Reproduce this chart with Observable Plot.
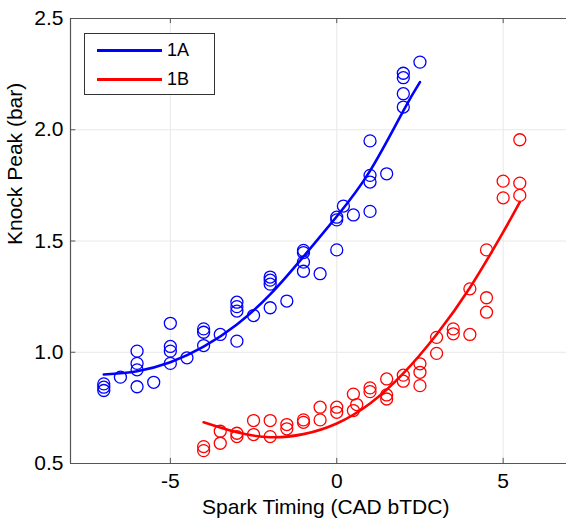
<!DOCTYPE html>
<html><head><meta charset="utf-8">
<script src="https://cdn.jsdelivr.net/npm/d3@7"></script>
<script src="https://cdn.jsdelivr.net/npm/@observablehq/plot@0.6"></script>
<style>
body{margin:0;background:#fff;font-family:"Liberation Sans",Arial,sans-serif;}
#wrap{position:relative;width:566px;height:518px;overflow:hidden;background:#fff;}
#chart svg{max-width:none !important;}
#legend{position:absolute;left:84px;top:33px;width:131px;height:62px;border:1px solid #333;background:#fff;box-sizing:border-box;}
#legend .ln{position:absolute;left:12px;width:65px;height:3px;}
#legend .lb{position:absolute;left:82px;font-size:18px;line-height:18px;color:#000;}
</style></head><body>
<div id="wrap"><div id="chart"></div>
<div id="legend">
<div class="ln" style="top:15px;background:#0000ff"></div><div class="lb" style="top:7px">1A</div>
<div class="ln" style="top:44px;background:#ff0000"></div><div class="lb" style="top:36px">1B</div>
</div></div>
<script>
const seriesNames = ["1A", "1B"];
const seriesColors = ["#0000ff", "#ff0000"];

// 1A measured points
const aX = [-7,-7,-7, -6.5, -6,-6,-6,-6, -5.5, -5,-5,-5,-5, -4.5, -4,-4,-4, -3.5, -3,-3,-3,-3, -2.5, -2,-2,-2,-2, -1.5, -1,-1,-1,-1, -0.5, 0,0,0, 0.2, 0.5, 1,1,1,1, 1.5, 2,2,2,2, 2.5];
const aY = [0.858,0.843,0.828, 0.888, 1.005,0.95,0.921,0.845, 0.865, 1.13,1.026,1.005,0.95, 0.975, 1.105,1.09,1.03, 1.08, 1.225,1.205,1.185,1.05, 1.165, 1.338,1.324,1.306,1.2, 1.23, 1.458,1.448,1.405,1.364, 1.353, 1.607,1.595,1.46, 1.657, 1.617, 1.95,1.795,1.765,1.633, 1.802, 2.254,2.234,2.162,2.102, 2.304];

// 1B measured points
const bX = [-4,-4, -3.5,-3.5, -3,-3, -2.5,-2.5, -2,-2, -1.5,-1.5, -1,-1, -0.5,-0.5, 0,0, 0.5,0.5,0.6, 1,1, 1.5,1.5,1.5, 2,2, 2.5,2.5,2.5, 3,3, 3.5,3.5, 4,4, 4.5,4.5,4.5, 5,5, 5.5,5.5,5.5];
const bY = [0.576,0.558, 0.645,0.591, 0.636,0.621, 0.693,0.63, 0.693,0.621, 0.675,0.656, 0.696,0.685, 0.753,0.696, 0.753,0.73, 0.812,0.738,0.765, 0.84,0.823, 0.88,0.808,0.79, 0.897,0.87, 0.948,0.91,0.85, 1.067,0.995, 1.105,1.083, 1.285,1.08, 1.46,1.245,1.18, 1.769,1.694, 1.955,1.76,1.705];

// fitted curves
const aFitX = [-7,-6,-5,-4,-3,-2,-1,0,1,2,2.5];
const aFitY = [0.90,0.915,0.955,1.025,1.125,1.26,1.43,1.61,1.815,2.085,2.214];
const bFitX = [-4,-3,-2,-1,0,1,2,3,4,5,5.5];
const bFitY = [0.685,0.64,0.618,0.632,0.68,0.77,0.905,1.08,1.29,1.54,1.675];

const xTicks = [-5, 0, 5];
const yTicks = [0.5, 1.0, 1.5, 2.0, 2.5];
const xLabel = "Spark Timing (CAD bTDC)";
const yLabel = "Knock Peak (bar)";

const pts = [
  ...aX.map((x, i) => ({x, y: aY[i], s: seriesNames[0]})),
  ...bX.map((x, i) => ({x, y: bY[i], s: seriesNames[1]}))
];
const fits = [
  ...aFitX.map((x, i) => ({x, y: aFitY[i], s: seriesNames[0]})),
  ...bFitX.map((x, i) => ({x, y: bFitY[i], s: seriesNames[1]}))
];

const axisColor = "#555";
const chart = Plot.plot({
  width: 610, height: 518,
  marginLeft: 70, marginRight: 7.5, marginTop: 18, marginBottom: 55,
  style: {fontFamily: "'Liberation Sans', Arial, sans-serif", fontSize: "21px", color: "#000", background: "#fff", overflow: "visible", maxWidth: "none"},
  x: {domain: [-8, 8]},
  y: {domain: [0.5, 2.5]},
  color: {domain: seriesNames, range: seriesColors},
  marks: [
    Plot.ruleX(xTicks, {stroke: "#e8e8e8"}),
    Plot.ruleY(yTicks.slice(1, -1), {stroke: "#e8e8e8"}),
    Plot.ruleY([0.5, 2.5], {stroke: axisColor, strokeWidth: 1.2}),
    Plot.ruleX([-8], {stroke: axisColor, strokeWidth: 1.2}),
    Plot.ruleX(xTicks, {y1: 0.5, y2: 0.523, stroke: axisColor}),
    Plot.ruleX(xTicks, {y1: 2.5, y2: 2.477, stroke: axisColor}),
    Plot.ruleY(yTicks, {x1: -8, x2: -7.84, stroke: axisColor}),
    Plot.axisX(xTicks, {tickSize: 0, tickPadding: 10, tickFormat: d => String(d), label: null}),
    Plot.axisY(yTicks, {tickSize: 0, tickPadding: 7, tickFormat: d3.format(".1f"), label: null}),
    Plot.text([xLabel], {frameAnchor: "bottom", lineAnchor: "middle", dy: 44, dx: -11, fontSize: 21}),
    Plot.text([yLabel], {frameAnchor: "left", rotate: -90, dx: -55, dy: 4, fontSize: 21}),
    Plot.dot(pts, {x: "x", y: "y", stroke: "s", r: 6, strokeWidth: 1.3, fill: "none"}),
    Plot.line(fits, {x: "x", y: "y", stroke: "s", z: "s", curve: "natural", strokeWidth: 2.6})
  ]
});
document.getElementById("chart").appendChild(chart);
</script>
</body></html>
